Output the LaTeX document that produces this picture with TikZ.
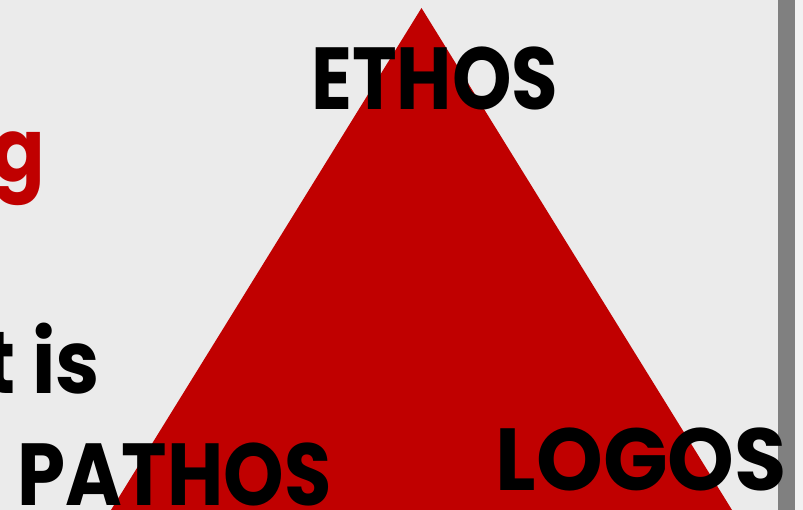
\documentclass[tikz,border=0pt]{standalone}
\usepackage{fontspec}
\usepackage{graphicx}
\setmainfont{Poppins}[UprightFont=* Bold]
\definecolor{bg}{HTML}{EBEBEB}
\definecolor{bgright}{HTML}{F2F2F2}
\definecolor{bar}{HTML}{808080}
\definecolor{tri}{HTML}{C00000}
\tikzset{
  word/.style={inner sep=0pt, font=\fontsize{88}{88}\selectfont, text=black},
  redword/.style={word, text=tri}
}
\begin{document}
\begin{tikzpicture}[x=1pt,y=-1pt]
\useasboundingbox (0,0) rectangle (803,510);
\clip (0,0) rectangle (803,510);
\fill[bg] (0,0) rectangle (778,510);
\fill[bgright] (795,0) rectangle (803,510);
\fill[bar] (778,0) rectangle (795,510);
\fill[tri] (421.5,8) -- (111,510) -- (732,510) -- cycle;
\node[word, anchor=base west] (ethos) at (311,110) {\scalebox{0.86}[1]{ETHOS}};
\node[word, anchor=base west] (pathos) at (17,505) {\scalebox{0.875}[1]{PATHOS}};
\node[word, anchor=base east] (logos) at (787,490) {\scalebox{0.965}[1]{LOGOS}};
\node[redword, anchor=base east] (g) at (45,182) {\scalebox{0.9}[1]{g}};
\node[word, anchor=base east] (tis) at (100,393) {\scalebox{0.9}[1]{t is}};
\end{tikzpicture}
\end{document}
